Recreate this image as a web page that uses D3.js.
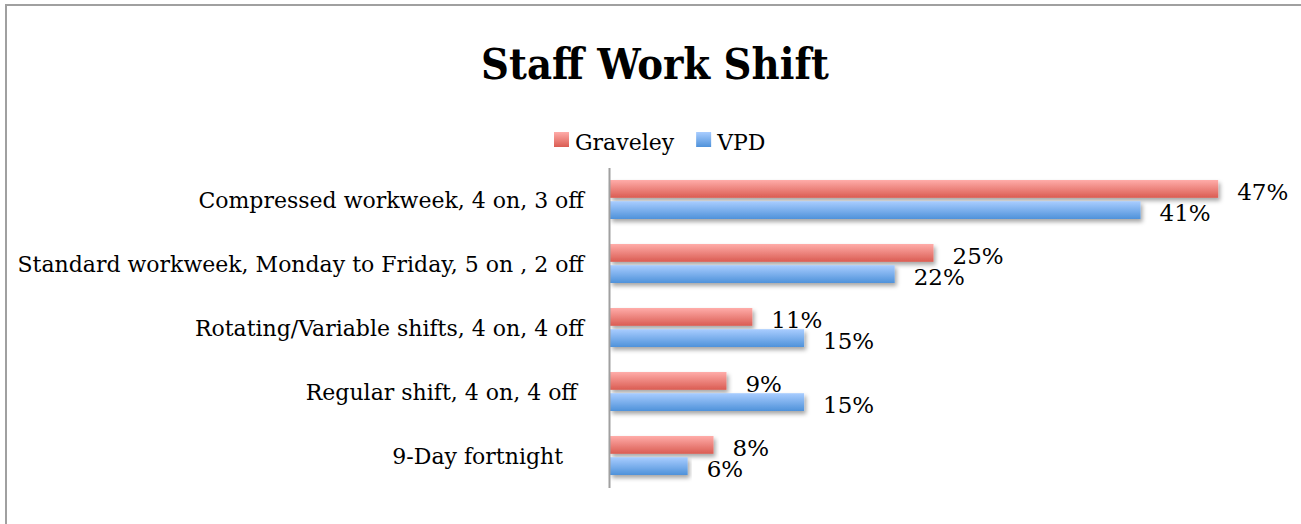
<!DOCTYPE html>
<html>
<head>
<meta charset="utf-8">
<script src="https://cdn.jsdelivr.net/npm/d3@7"></script>
<style>
  body { margin: 0; background: #fff; }
  text { font-family: "DejaVu Serif", "Liberation Serif", serif; fill: #000; }
</style>
</head>
<body>
<div id="container"></div>
<script>
// chart data
const categories = [
  "Compressed workweek, 4 on, 3 off",
  "Standard workweek, Monday to Friday, 5 on , 2 off",
  "Rotating/Variable shifts, 4 on, 4 off",
  "Regular shift, 4 on, 4 off ",
  "9-Day fortnight   "
];
const seriesNames = ["Graveley", "VPD"];
const graveley = [47, 25, 11, 9, 8];
const vpd = [41, 22, 15, 15, 6];

const width = 1301;
const height = 524;

const svg = d3.select("#container")
  .append("svg")
  .attr("width", width)
  .attr("height", height);

const defs = svg.append("defs");

// gradients for the bars
function addGradient(id, top, bottom) {
  const g = defs.append("linearGradient")
    .attr("id", id)
    .attr("x1", 0).attr("y1", 0)
    .attr("x2", 0).attr("y2", 1);
  g.append("stop").attr("offset", "0%").attr("stop-color", top);
  g.append("stop").attr("offset", "100%").attr("stop-color", bottom);
}
addGradient("grad-Graveley", "#ffaca9", "#da5c52");
addGradient("grad-VPD", "#a9cdff", "#4f92da");

const shadow = defs.append("filter")
  .attr("id", "shadow")
  .attr("x", "-5%").attr("y", "-30%")
  .attr("width", "110%").attr("height", "180%");
shadow.append("feDropShadow")
  .attr("dx", 2).attr("dy", 3)
  .attr("stdDeviation", 2)
  .attr("flood-color", "#000")
  .attr("flood-opacity", 0.35);

// chart border (right/bottom edges run off the picture)
svg.append("rect")
  .attr("x", 6).attr("y", 5)
  .attr("width", 1320).attr("height", 540)
  .attr("fill", "none")
  .attr("stroke", "#a0a0a0")
  .attr("stroke-width", 2);

// title
svg.append("text")
  .attr("x", 655)
  .attr("y", 79)
  .attr("text-anchor", "middle")
  .style("font-size", "43px")
  .style("font-weight", "bold")
  .style("font-stretch", "condensed")
  .text("Staff Work Shift");

// scales
const x = d3.scaleLinear().domain([0, 50]).range([610, 1257]);
const y = d3.scaleBand().domain(categories).range([167.5, 487.5]).padding(0);
const ySub = d3.scaleBand().domain(seriesNames)
  .range([y.bandwidth() / 2 - 19.5, y.bandwidth() / 2 + 19.5])
  .paddingInner(0.16);

const rows = categories.map((c, i) => ({
  category: c,
  values: [
    { series: "Graveley", value: graveley[i] },
    { series: "VPD", value: vpd[i] }
  ]
}));

const group = svg.selectAll("g.row")
  .data(rows)
  .join("g")
    .attr("class", "row")
    .attr("transform", d => `translate(0,${y(d.category)})`);

group.selectAll("rect")
  .data(d => d.values)
  .join("rect")
    .attr("x", x(0))
    .attr("y", d => ySub(d.series))
    .attr("width", d => x(d.value) - x(0))
    .attr("height", ySub.bandwidth())
    .attr("fill", d => `url(#grad-${d.series})`)
    .attr("filter", "url(#shadow)");

group.selectAll("text.value")
  .data(d => d.values)
  .join("text")
    .attr("class", "value")
    .attr("x", d => x(d.value) + 19)
    .attr("y", d => ySub(d.series) + ySub.bandwidth() / 2 + 3)
    .attr("dy", "0.35em")
    .style("font-size", "23px")
    .text(d => d.value + "%");

// category axis
const yAxis = svg.append("g")
  .attr("transform", `translate(${x(0) - 1},0)`)
  .call(d3.axisLeft(y).tickSize(0).tickPadding(25));
yAxis.select(".domain")
  .attr("stroke", "#a0a0a0")
  .attr("stroke-width", 2);
yAxis.selectAll("text")
  .style("font-size", "22px")
  .style("white-space", "pre")
  .attr("font-family", null)
  .attr("dy", "0.4em");

// legend
const legend = svg.append("g");
let lx = 554;
seriesNames.forEach(name => {
  legend.append("rect")
    .attr("x", lx).attr("y", 132)
    .attr("width", 15).attr("height", 15)
    .attr("fill", `url(#grad-${name})`);
  const t = legend.append("text")
    .attr("x", lx + 21)
    .attr("y", 150)
    .style("font-size", "22px")
    .text(name);
  lx += 21 + t.node().getComputedTextLength() + 22;
});
</script>
</body>
</html>
